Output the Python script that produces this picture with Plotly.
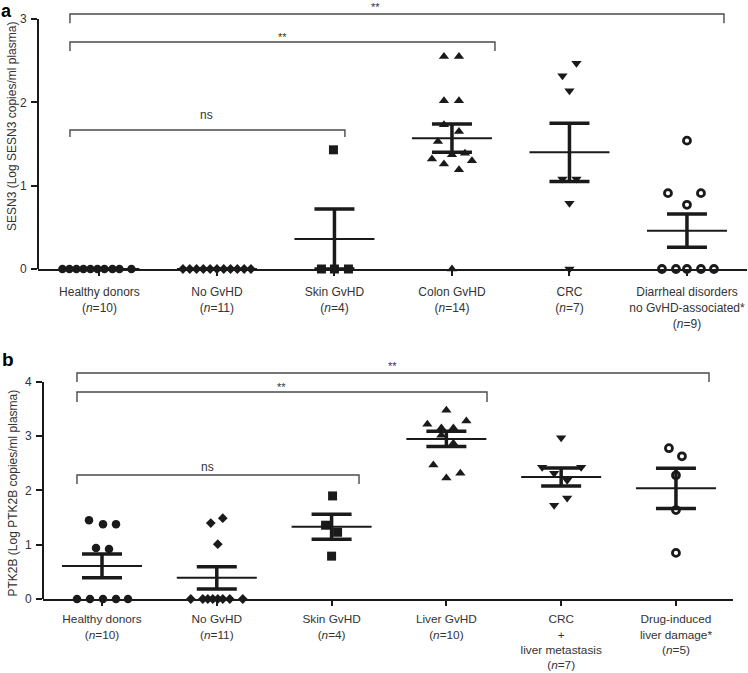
import plotly.graph_objects as go

# ---------------- DATA ----------------
labels_a = ["Healthy donors<br>(<i>n</i>=10)", "No GvHD<br>(<i>n</i>=11)", "Skin GvHD<br>(<i>n</i>=4)",
            "Colon GvHD<br>(<i>n</i>=14)", "CRC<br>(<i>n</i>=7)",
            "Diarrheal disorders<br>no GvHD-associated*<br>(<i>n</i>=9)"]
sesn3_healthy = [0, 0, 0, 0, 0, 0, 0, 0, 0, 0]
sesn3_nogvhd = [0, 0, 0, 0, 0, 0, 0, 0, 0, 0, 0]
sesn3_skin = [1.43, 0, 0, 0]
sesn3_colon = [2.55, 2.55, 2.02, 2.02, 1.73, 1.65, 1.53, 1.37, 1.39, 1.32, 1.26, 1.30, 1.19, 0]
sesn3_crc = [2.47, 2.32, 2.14, 1.08, 1.08, 0.79, 0]
sesn3_diarrheal = [1.54, 0.91, 0.91, 0.77, 0, 0, 0, 0, 0]
sesn3_mean = [0, 0, 0.36, 1.57, 1.40, 0.46]
sesn3_sem = [0, 0, 0.36, 0.17, 0.35, 0.20]

labels_b = ["Healthy donors<br>(<i>n</i>=10)", "No GvHD<br>(<i>n</i>=11)", "Skin GvHD<br>(<i>n</i>=4)",
            "Liver GvHD<br>(<i>n</i>=10)", "CRC<br>+<br>liver metastasis<br>(<i>n</i>=7)",
            "Drug-induced<br>liver damage*<br>(<i>n</i>=5)"]
ptk2b_healthy = [1.45, 1.38, 1.38, 0.94, 0.92, 0, 0, 0, 0, 0]
ptk2b_nogvhd = [1.40, 1.49, 1.01, 0, 0, 0, 0, 0, 0, 0, 0]
ptk2b_skin = [1.90, 1.36, 1.23, 0.79]
ptk2b_liver = [3.48, 3.22, 3.28, 3.15, 3.15, 3.02, 2.87, 2.47, 2.23, 2.32]
ptk2b_crc = [2.97, 2.43, 2.43, 2.32, 2.19, 1.73, 1.86]
ptk2b_drug = [2.78, 2.63, 2.28, 1.64, 0.85]
ptk2b_mean = [0.61, 0.39, 1.33, 2.95, 2.25, 2.04]
ptk2b_sem = [0.22, 0.205, 0.23, 0.14, 0.165, 0.37]

# ---------------- LAYOUT (horizontal scatter offsets in px) ----------------
off_a = [
    [-37, -30, -23, -16, -9, -2, 5, 13, 20, 32],
    [-34, -27.2, -20.4, -13.6, -6.8, 0, 6.8, 13.6, 20.4, 27.2, 34],
    [-1, -13, 0, 14],
    [-8, 7, -8, 7, -8, 7, -14, 0, 13, -20, -8, 20, 7, 0],
    [7, -7, 0, -7, 7, 0, 0],
    [0, -19, 14, 0, -25, -11, 0, 14, 27],
]
off_b = [
    [-13, 1, 14, -6, 7, -25, -12, 1, 14, 26],
    [-6, 6, 1, -26, -14, -9, -4, 1, 6, 13, 26],
    [1, -6, 6, 0],
    [0, -19, 20, -5, 7, -5, 7, -13, 0, 14],
    [0, -19, 20, -7, 6, -7, 6],
    [-7, 6, 0, 0, 0],
]

W, H = 748, 673
FONT = "Liberation Sans, Arial, sans-serif"
INK = "#1a1a1a"
TXT = "#333333"
BR = "#4a4a4a"

groups_a = [sesn3_healthy, sesn3_nogvhd, sesn3_skin, sesn3_colon, sesn3_crc, sesn3_diarrheal]
groups_b = [ptk2b_healthy, ptk2b_nogvhd, ptk2b_skin, ptk2b_liver, ptk2b_crc, ptk2b_drug]
symbols = ["circle", "diamond", "square", "triangle-up", "triangle-down", "circle-open"]
sizes = [8.5, 7.5, 9, 9, 9, 7]

step_a, step_b = 117.5, 114.8   # px per category

fig = go.Figure()


def add_panel(groups, offs, means, sems, step, xa, ya):
    for i, (vals, off) in enumerate(zip(groups, offs)):
        fig.add_trace(go.Scatter(
            x=[i + o / step for o in off], y=vals, mode="markers", xaxis=xa, yaxis=ya,
            cliponaxis=False, showlegend=False, hoverinfo="skip",
            marker=dict(symbol=symbols[i], size=sizes[i], color=INK,
                        line=dict(color=INK, width=2.8 if symbols[i].endswith("open") else 0))))
    h = 40 / step
    mx, my = [], []
    for i, m in enumerate(means):
        mx += [i - h, i + h, None]
        my += [m, m, None]
    fig.add_trace(go.Scatter(x=mx, y=my, mode="lines", xaxis=xa, yaxis=ya, showlegend=False,
                             hoverinfo="skip", line=dict(color=INK, width=2)))
    fig.add_trace(go.Scatter(
        x=list(range(len(means))), y=means, mode="markers", xaxis=xa, yaxis=ya, cliponaxis=False,
        showlegend=False, hoverinfo="skip", marker=dict(size=1, color="rgba(0,0,0,0)"),
        error_y=dict(type="data", array=sems, visible=True, color=INK, thickness=3.5, width=20)))


add_panel(groups_a, off_a, sesn3_mean, sesn3_sem, step_a, "x", "y")
add_panel(groups_b, off_b, ptk2b_mean, ptk2b_sem, step_b, "x2", "y2")

# significance brackets: (x_left, x_right, y_top, y_drop) in data units
brackets_a = [(-0.251, 5.315, 3.06, 2.95), (-0.251, 3.366, 2.724, 2.616), (-0.251, 2.089, 1.668, 1.584)]
brackets_b = [(-0.218, 5.288, 4.166, 4.0), (-0.218, 3.354, 3.816, 3.631), (-0.218, 2.239, 2.286, 2.12)]
marks_a = [("**", 2.353, 3.14, 11), ("**", 1.562, 2.784, 11), ("ns", 0.915, 1.848, 12)]
marks_b = [("**", 2.535, 4.295, 11), ("**", 1.568, 3.908, 11), ("ns", 0.923, 2.433, 12)]

shapes, annos = [], []
for brs, xr, yr in [(brackets_a, "x", "y"), (brackets_b, "x2", "y2")]:
    for x0, x1, yt, yd in brs:
        shapes.append(dict(type="path", xref=xr, yref=yr,
                           path=f"M{x0},{yd} L{x0},{yt} L{x1},{yt} L{x1},{yd}",
                           line=dict(color=BR, width=1.4)))
for mks, xr, yr in [(marks_a, "x", "y"), (marks_b, "x2", "y2")]:
    for t, x, y, s in mks:
        annos.append(dict(text=t, x=x, y=y, xref=xr, yref=yr, showarrow=False,
                          font=dict(family=FONT, size=s, color=TXT)))

# y-axis spines from 0 to the top tick only
shapes.append(dict(type="line", xref="x domain", yref="y", x0=0, x1=0, y0=0, y1=3,
                   line=dict(color=INK, width=2)))
shapes.append(dict(type="line", xref="x2 domain", yref="y2", x0=0, x1=0, y0=0, y1=4,
                   line=dict(color=INK, width=2)))

annos += [
    dict(text="SESN3 (Log SESN3 copies/ml plasma)", x=12 / W, y=1 - 127 / H, xref="paper", yref="paper",
         textangle=-90, showarrow=False, xanchor="center", yanchor="middle",
         font=dict(family=FONT, size=12, color=TXT)),
    dict(text="PTK2B (Log PTK2B copies/ml plasma)", x=12.5 / W, y=1 - 493 / H, xref="paper", yref="paper",
         textangle=-90, showarrow=False, xanchor="center", yanchor="middle",
         font=dict(family=FONT, size=12, color=TXT)),
    dict(text="<b>a</b>", x=0, y=1, xref="paper", yref="paper", showarrow=False,
         xanchor="left", yanchor="top", borderpad=0, font=dict(family=FONT, size=18, color="#000")),
    dict(text="<b>b</b>", x=0, y=1 - 359 / H, xref="paper", yref="paper", showarrow=False,
         xanchor="left", yanchor="middle", font=dict(family=FONT, size=19, color="#000")),
]

xax = dict(showgrid=False, zeroline=False, showline=True, linecolor=INK, linewidth=2, automargin=False,
           ticks="outside", ticklen=5, tickwidth=2, tickcolor=INK,
           tickfont=dict(family=FONT, size=12, color=TXT), tickmode="array")
yax = dict(showgrid=False, zeroline=False, showline=False, automargin=False,
           ticks="outside", ticklen=6, tickwidth=2, tickcolor=INK,
           tickfont=dict(family=FONT, size=12, color=TXT), tickmode="array", ticklabelstandoff=2)

fig.update_layout(
    width=W, height=H, margin=dict(l=0, r=0, t=0, b=0, autoexpand=False),
    paper_bgcolor="white", plot_bgcolor="white",
    xaxis=dict(xax, domain=[38 / W, 747 / W], range=[-0.523, 5.511], anchor="y",
               tickvals=list(range(6)), ticktext=labels_a, ticklabelstandoff=6),
    yaxis=dict(yax, domain=[1 - 269 / H, 1 - 2.3 / H], range=[0, 3.2], anchor="x",
               tickvals=[0, 1, 2, 3], ticktext=["0", "1", "2", "3"]),
    xaxis2=dict(xax, domain=[43 / W, 733 / W], range=[-0.514, 5.497], anchor="y2",
                tickvals=list(range(6)), ticktext=labels_b, ticklabelstandoff=3,
                tickfont=dict(family=FONT, size=11.8, color=TXT)),
    yaxis2=dict(yax, domain=[1 - 599 / H, 1 - 363 / H], range=[0, 4.35], anchor="x2",
                tickvals=[0, 1, 2, 3, 4], ticktext=["0", "1", "2", "3", "4"]),
    shapes=shapes, annotations=annos,
)

fig.write_html("out.html", config={"displayModeBar": False},
               post_script="document.body.style.margin='0';document.body.style.overflow='hidden';")
